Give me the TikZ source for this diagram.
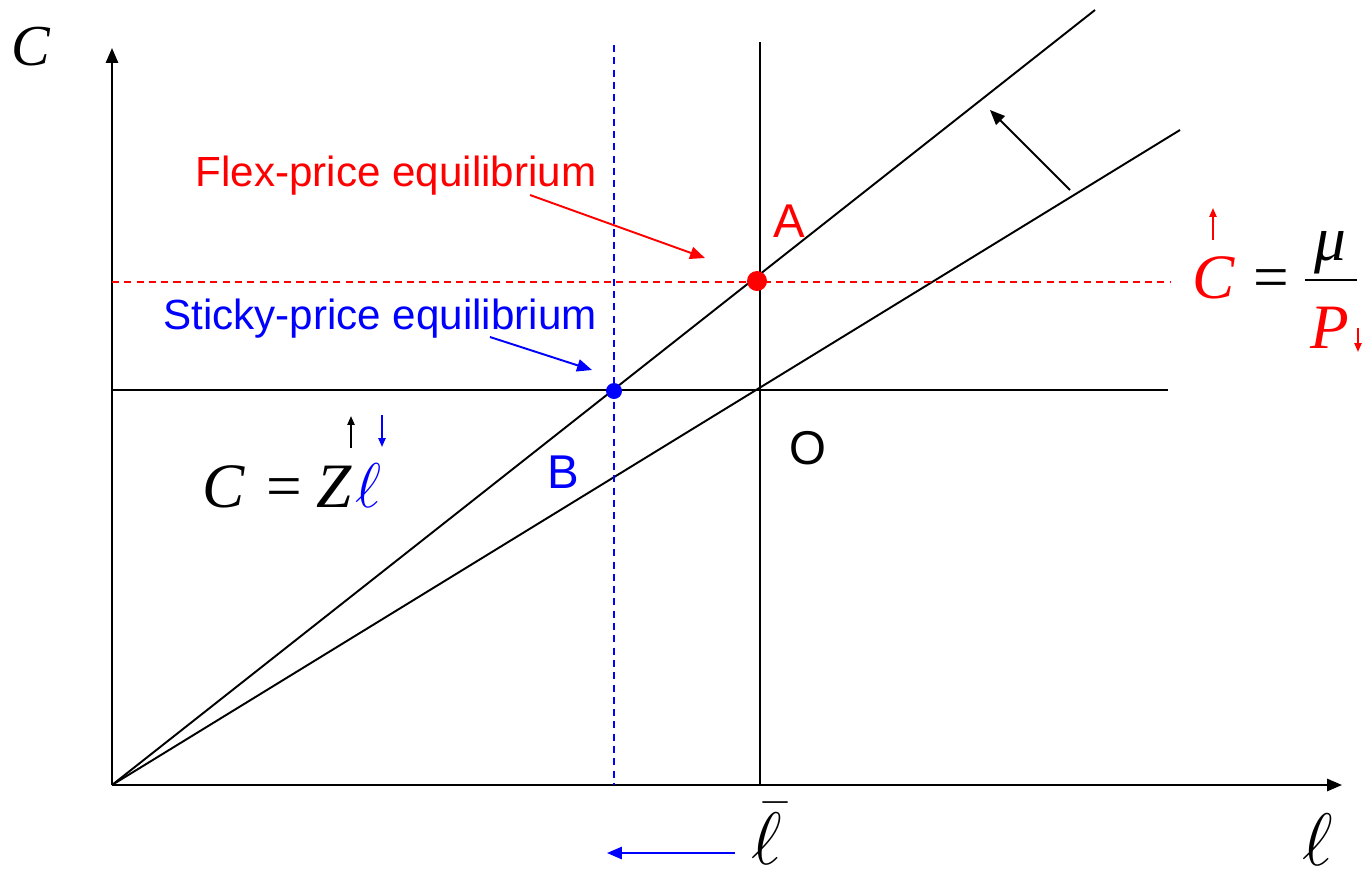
\documentclass[tikz,border=0pt]{standalone}
\usepackage{amsmath}
\usepackage{fontspec}
\usetikzlibrary{arrows.meta,calc}
\newfontfamily\labelfont{Liberation Sans}
\newfontfamily\formulafont{Liberation Serif}
\definecolor{flexcolor}{HTML}{FF0000}
\definecolor{stickycolor}{HTML}{0000FF}

\tikzset{
  axisline/.style={line width=1.1pt},
  tag/.style={font=\labelfont\fontsize{24}{28}\selectfont},
  point/.style={font=\labelfont\fontsize{27}{30}\selectfont},
  bigmath/.style={font=\formulafont\fontsize{36}{40}\selectfont\itshape, inner sep=1pt},
  bigell/.style={font=\Huge, scale=1.7, inner sep=0pt},
  smallarrow/.style={line width=1pt, -{Triangle[length=5pt,width=4pt]}}
}

\begin{document}
\begin{tikzpicture}[x=0.02cm, y=-0.02cm, >={Triangle[length=8.5pt,width=7pt]}]
    \useasboundingbox (0,0) rectangle (1367,877);
    % Axes
    \coordinate (O) at (112,785);
    \coordinate (Ytop) at (112,48);
    \coordinate (Xend) at (1342,785);
    \draw[axisline, ->] (O) -- (Ytop);
    \draw[axisline, ->] (O) -- (Xend);
    \node[bigmath, font=\formulafont\fontsize{33}{36}\selectfont\itshape] (Clab) at (31,47) {C};
    \node[bigell] (ellab) at (1318,840) {$\ell$};

    % Levels and rays
    \coordinate (Hleft) at (112,390);
    \coordinate (Hright) at (1168,390);
    \coordinate (Vtop) at (760,42);
    \coordinate (Vbot) at (760,785);
    \coordinate (Steep) at (1095,10);
    \coordinate (Shallow) at (1180,130);
    \draw[axisline] (Hleft) -- (Hright);
    \draw[axisline] (Vtop) -- (Vbot);
    \draw[axisline] (O) -- (Steep);
    \draw[axisline] (O) -- (Shallow);

    % Shift of the ray
    \coordinate (Sfrom) at (1070,190);
    \coordinate (Sto) at (990,110);
    \draw[axisline, ->] (Sfrom) -- (Sto);

    % Flex-price level
    \coordinate (Rleft) at (112,282);
    \coordinate (Rright) at (1170,282);
    \draw[axisline, dashed, dash pattern=on 4pt off 3pt, color=flexcolor] (Rleft) -- (Rright);

    % Sticky-price level
    \coordinate (Btop) at (614,45);
    \coordinate (Bbot) at (614,785);
    \draw[axisline, dashed, dash pattern=on 4pt off 3pt, color=stickycolor] (Btop) -- (Bbot);

    % Equilibria
    \coordinate (A) at (757,281);
    \coordinate (B) at (614,391);
    \fill[flexcolor] (A) circle (10);
    \fill[stickycolor] (B) circle (8);
    \node[point, color=flexcolor] (Alab) at (789,221) {A};
    \node[point, color=stickycolor] (Blab) at (563,472) {B};
    \node[point] (Olab) at (808,448) {O};

    \node[tag, color=flexcolor] (flex) at (396,176) {Flex-price equilibrium};
    \node[tag, color=stickycolor] (sticky) at (380,319) {Sticky-price equilibrium};
    \coordinate (Ffrom) at (530,195);
    \coordinate (Fto) at (705,258);
    \coordinate (Sfrom2) at (490,337);
    \coordinate (Sfto) at (592,370);
    \draw[axisline, ->, color=flexcolor] (Ffrom) -- (Fto);
    \draw[axisline, ->, color=stickycolor] (Sfrom2) -- (Sfto);

    % Labour bar and its fall
    \node[bigell] (lbar) at (767,834) {$\bar{\ell}$};
    \coordinate (Lfrom) at (735,853);
    \coordinate (Lto) at (607,853);
    \draw[axisline, ->, color=stickycolor] (Lfrom) -- (Lto);

    % Production
    \node[bigmath, anchor=base west] (prod) at (200,507) {C\hspace{0.35em}\upshape=\hspace{0.22em}\itshape Z};
    \node[bigell, scale=0.85, color=stickycolor, anchor=base west] (prodell) at ($(prod.base east)+(2,0)$) {$\ell$};
    \draw[smallarrow] (351,448) -- (351,416);
    \draw[smallarrow, color=stickycolor] (382,415) -- (382,447);

    % Demand
    \node[bigmath, color=flexcolor, anchor=base] (Cdem) at (1214,298) {C};
    \node[bigmath, anchor=base] (eq) at (1271,298) {\upshape=};
    \node[bigmath, anchor=base] (mu) at (1330,260) {μ};
    \draw[axisline] (1305,280) -- (1357,280);
    \node[bigmath, color=flexcolor, anchor=base] (Pdem) at (1330,348) {P};
    \draw[smallarrow, color=flexcolor] (1213,240) -- (1213,208);
    \draw[smallarrow, color=flexcolor] (1358,328) -- (1358,352);
\end{tikzpicture}
\end{document}
